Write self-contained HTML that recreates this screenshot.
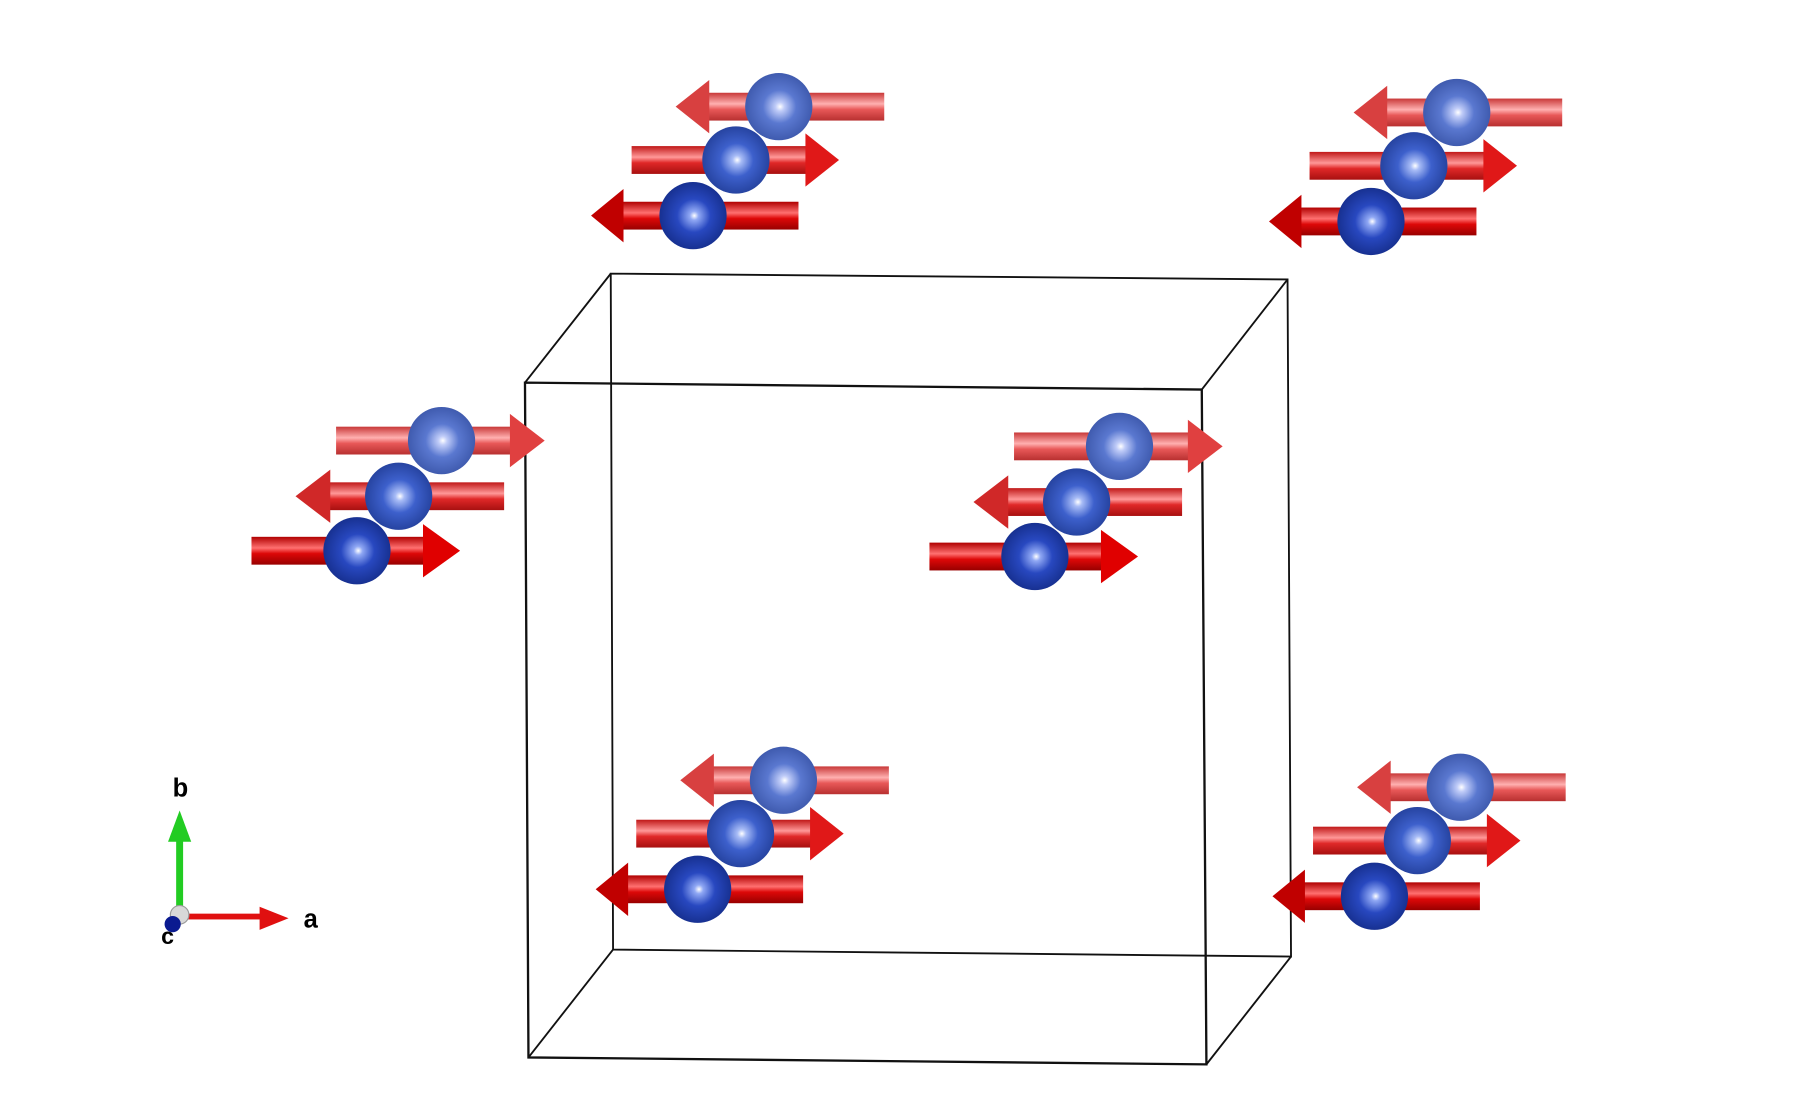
<!DOCTYPE html>
<html><head><meta charset="utf-8"><style>html,body{margin:0;padding:0;background:#fff}svg{display:block}</style></head>
<body>
<svg width="1816" height="1098" viewBox="0 0 1567 947" preserveAspectRatio="none" xmlns="http://www.w3.org/2000/svg">
<defs>
<radialGradient id="b1" cx="0.5" cy="0.5" r="0.55" fx="0.52" fy="0.5">
<stop offset="0" stop-color="#ffffff"/><stop offset="0.12" stop-color="#c0ccf8"/><stop offset="0.45" stop-color="#5a78d0"/><stop offset="1" stop-color="#3a55a8"/></radialGradient>
<radialGradient id="b2" cx="0.5" cy="0.5" r="0.55" fx="0.52" fy="0.5">
<stop offset="0" stop-color="#ffffff"/><stop offset="0.12" stop-color="#a8bcf6"/><stop offset="0.45" stop-color="#3d60cc"/><stop offset="1" stop-color="#223e98"/></radialGradient>
<radialGradient id="b3" cx="0.5" cy="0.5" r="0.55" fx="0.52" fy="0.5">
<stop offset="0" stop-color="#ffffff"/><stop offset="0.12" stop-color="#90a8f4"/><stop offset="0.45" stop-color="#2848c0"/><stop offset="1" stop-color="#142c88"/></radialGradient>
<linearGradient id="s1" x1="0" y1="0" x2="0" y2="1">
<stop offset="0" stop-color="#c83838"/><stop offset="0.4" stop-color="#ffb0b0"/><stop offset="0.6" stop-color="#e85858"/><stop offset="1" stop-color="#b83030"/></linearGradient>
<linearGradient id="s2" x1="0" y1="0" x2="0" y2="1">
<stop offset="0" stop-color="#c01818"/><stop offset="0.4" stop-color="#ff9898"/><stop offset="0.6" stop-color="#e02828"/><stop offset="1" stop-color="#a81010"/></linearGradient>
<linearGradient id="s3" x1="0" y1="0" x2="0" y2="1">
<stop offset="0" stop-color="#b00000"/><stop offset="0.4" stop-color="#ff7070"/><stop offset="0.6" stop-color="#dd0808"/><stop offset="1" stop-color="#980000"/></linearGradient>
<g id="A">
<rect x="-62" y="-12" width="153" height="24" fill="url(#s1)"/>
<polygon points="-89,0 -60,-23 -60,23" fill="#d84040"/>
<circle cx="0" cy="0" r="29" fill="url(#b1)"/>
<rect x="-127" y="34" width="152" height="24" fill="url(#s2)"/>
<polygon points="52,46 23,23 23,69" fill="#e01818"/>
<circle cx="-37" cy="46" r="29" fill="url(#b2)"/>
<rect x="-136" y="82" width="153" height="24" fill="url(#s3)"/>
<polygon points="-162,94 -134,71 -134,117" fill="#c00000"/>
<circle cx="-74" cy="94" r="29" fill="url(#b3)"/>
</g>
<g id="B">
<rect x="-91" y="-12" width="152" height="24" fill="url(#s1)"/>
<polygon points="89,0 59,-23 59,23" fill="#e04040"/>
<circle cx="0" cy="0" r="29" fill="url(#b1)"/>
<rect x="-98" y="36" width="152" height="24" fill="url(#s2)"/>
<polygon points="-126,48 -96,25 -96,71" fill="#d02828"/>
<circle cx="-37" cy="48" r="29" fill="url(#b2)"/>
<rect x="-164" y="83" width="150" height="24" fill="url(#s3)"/>
<polygon points="16,95 -16,72 -16,118" fill="#e00000"/>
<circle cx="-73" cy="95" r="29" fill="url(#b3)"/>
</g>
</defs>
<g fill="none" stroke="#111" stroke-width="1.6">
<polygon points="527,236 1111,241 1114,825 529,819"/>
<polygon points="453,330 1037,336 1041,918 456,912" stroke-width="2"/>
<line x1="453" y1="330" x2="527" y2="236"/>
<line x1="1037" y1="336" x2="1111" y2="241"/>
<line x1="1041" y1="918" x2="1114" y2="825"/>
<line x1="456" y1="912" x2="529" y2="819"/>
</g>
<use href="#A" x="672" y="92"/>
<use href="#A" x="1257" y="97"/>
<use href="#B" x="381" y="380"/>
<use href="#B" x="966" y="385"/>
<use href="#A" x="676" y="673"/>
<use href="#A" x="1260" y="679"/>
<rect x="152" y="722" width="6" height="66" fill="#22cc22"/>
<polygon points="155,699 145,726 165,726" fill="#22cc22"/>
<rect x="160" y="788" width="68" height="5" fill="#e01010"/>
<polygon points="249,792 224,782 224,802" fill="#e01010"/>
<circle cx="155" cy="789" r="8" fill="#d8d8d8" stroke="#999" stroke-width="1"/>
<circle cx="149" cy="797" r="7" fill="#0a1a90"/>
<g font-family="Liberation Sans, sans-serif" font-weight="bold" font-size="22" fill="#000">
<text x="149" y="687">b</text>
<text x="262" y="800">a</text>
<text x="139" y="814" font-size="20">c</text>
</g>
</svg>
</body></html>
